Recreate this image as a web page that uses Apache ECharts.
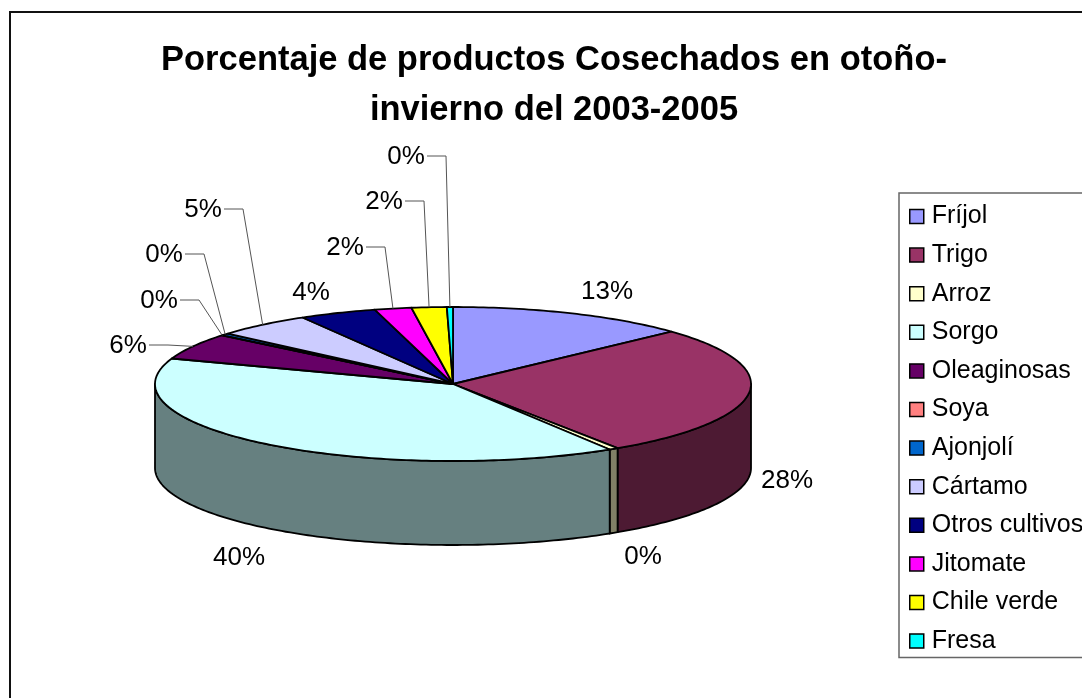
<!DOCTYPE html>
<html lang="es">
<head>
    <meta charset="UTF-8">
    <title>Porcentaje de productos Cosechados</title>
    <script src="https://cdn.jsdelivr.net/npm/echarts@6/dist/echarts.min.js"></script>
    <style>
        body{
            margin: 0;
            background: #fff;
        }
    </style>
</head>
<body>
<div id="chart" style="width: 1082px; height: 698px;"></div>
<script>
    var categories = ['Fríjol','Trigo','Arroz','Sorgo','Oleaginosas','Soya','Ajonjolí','Cártamo','Otros cultivos','Jitomate','Chile verde','Fresa'];
    var values = [13.1,27.6,0.5,39.2,5.5,0.05,0.45,5.2,4.2,2.0,1.9,0.33];
    var percentLabels = ['13%','28%','0%','40%','6%','0%','0%','5%','4%','2%','2%','0%'];
    var colors = ['#9999FF','#993366','#FFFFCC','#CCFFFF','#660066','#FF8080','#0066CC','#CCCCFF','#000080','#FF00FF','#FFFF00','#00FFFF'];

    // where the percent labels sit, last item says if it has a leader line
    var labelPos = [[607,291,0],[787,480,0],[643,556,0],[239,557,0],[128,345,1],[159,300,1],[164,254,1],[203,209,1],[311,292,0],[345,247,1],[384,201,1],[406,156,1]];

    // pie geometry
    var cx = 453, cy = 384, rx = 298, ry = 77, depth = 84;
    var fontName = '"Liberation Sans", Arial, sans-serif';

    var total = values.reduce(function(a, b){ return a + b; }, 0);

    function pt(deg, dy){
        var r = deg * Math.PI / 180;
        return [cx + rx * Math.sin(r), cy - ry * Math.cos(r) + (dy || 0)];
    }
    function arc(from, to, dy){
        var out = [];
        var n = Math.max(2, Math.ceil(to - from));
        for (var i = 0; i <= n; i++) {
            out.push(pt(from + (to - from) * i / n, dy));
        }
        return out;
    }

    // the walls are the same colour at half brightness
    function sideColor(hex){
        var c = echarts.color.parse(hex);
        return 'rgb(' + Math.round(c[0] / 2) + ',' + Math.round(c[1] / 2) + ',' + Math.round(c[2] / 2) + ')';
    }

    function renderSlice(params, api){
        var idx = params.seriesIndex;
        var before = 0;
        for (var i = 0; i < idx; i++) before += values[i];
        var a0 = before / total * 360;
        var a1 = (before + api.value(0)) / total * 360;
        var children = [];
        var border = {stroke: '#000', lineWidth: 1.8, lineJoin: 'round'};

        // wall, only the front half can be seen
        var s0 = Math.max(a0, 90), s1 = Math.min(a1, 270);
        if (s1 > s0) {
            var wall = arc(s0, s1, 0).concat(arc(s0, s1, depth).reverse());
            children.push({
                type: 'polygon',
                shape: {points: wall},
                style: Object.assign({fill: sideColor(colors[idx])}, border)
            });
        }
        // top of the slice
        children.push({
            type: 'polygon',
            z2: 10,
            shape: {points: [[cx, cy]].concat(arc(a0, a1, 0))},
            style: Object.assign({fill: colors[idx]}, border)
        });
        // percent label
        var p = labelPos[idx];
        children.push({
            type: 'text',
            z2: 20,
            style: {text: percentLabels[idx], x: p[0], y: p[1] + 1, align: 'center', verticalAlign: 'middle', fill: '#000', font: '26px ' + fontName}
        });
        if (p[2]) {
            var end = pt((a0 + a1) / 2, 0);
            children.push({
                type: 'polyline',
                z2: 20,
                shape: {points: [[p[0] + 21, p[1]], [p[0] + 40, p[1]], end]},
                style: {stroke: '#555', lineWidth: 1, fill: null}
            });
        }
        return {type: 'group', children: children};
    }

    var series = categories.map(function(name, i){
        return {
            type: 'custom',
            name: name,
            coordinateSystem: 'none',
            itemStyle: {color: colors[i]},
            data: [[values[i]]],
            renderItem: renderSlice
        };
    });

    var myChart = echarts.init(document.getElementById('chart'), null, {renderer: 'canvas'});
    myChart.setOption({
        animation: false,
        backgroundColor: '#fff',
        title: {
            text: 'Porcentaje de productos Cosechados en otoño-\ninvierno del 2003-2005',
            left: 549,
            top: 30,
            textAlign: 'center',
            textStyle: {fontFamily: fontName, fontWeight: 'bold', fontSize: 34.5, lineHeight: 50, color: '#000'}
        },
        legend: {
            orient: 'vertical',
            left: 899,
            top: 193,
            padding: [11, 220, 4, 10],
            icon: 'rect',
            itemWidth: 14,
            itemHeight: 14,
            itemGap: 13.6,
            borderColor: '#666',
            borderWidth: 1.5,
            selectedMode: false,
            itemStyle: {borderColor: '#000', borderWidth: 1.5},
            textStyle: {fontFamily: fontName, fontSize: 25, color: '#000', padding: [0, 0, 0, 3]},
            data: categories
        },
        graphic: [{
            type: 'rect',
            silent: true,
            shape: {x: 10, y: 12, width: 2000, height: 2000},
            style: {fill: null, stroke: '#111', lineWidth: 2}
        }],
        series: series
    });
</script>
</body>
</html>
